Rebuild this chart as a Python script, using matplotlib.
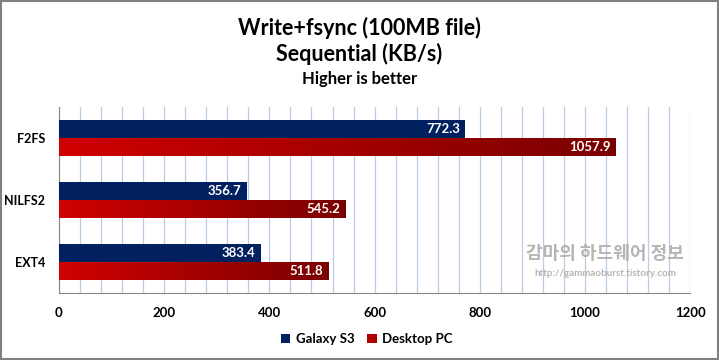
import numpy as np
import matplotlib.pyplot as plt
from matplotlib.colors import LinearSegmentedColormap
from matplotlib.patches import Patch

categories = ['F2FS', 'NILFS2', 'EXT4']
galaxy_s3 = [772.3, 356.7, 383.4]
desktop_pc = [1057.9, 545.2, 511.8]
series_names = ['Galaxy S3', 'Desktop PC']
title_lines = ['Write+fsync (100MB file)', 'Sequential (KB/s)', 'Higher is better']

plt.rcParams['font.family'] = ['Lato', 'DejaVu Sans']

navy = '#002060'
red_cmap = LinearSegmentedColormap.from_list('redgrad', ['#d00000', '#7a0000'])

fig = plt.figure(figsize=(7.19, 3.6), dpi=100)
ax = fig.add_axes([0.082, 0.187, 0.878, 0.516])

y = np.arange(len(categories))[::-1].astype(float)
h = 0.29

ax.barh(y + h / 2, galaxy_s3, height=h, color=navy, zorder=3)
bars_red = ax.barh(y - h / 2, desktop_pc, height=h, color='none', zorder=3)

# gradient fill for the red bars
grad = np.linspace(0, 1, 256).reshape(1, -1)
for b in bars_red:
    x0, y0 = b.get_x(), b.get_y()
    w, hh = b.get_width(), b.get_height()
    ax.imshow(grad, cmap=red_cmap, aspect='auto', zorder=3,
              extent=[x0, x0 + w, y0, y0 + hh], interpolation='bilinear')

for yi, v in zip(y, galaxy_s3):
    ax.text(v - 10, yi + h / 2, f'{v:.1f}', color='white', fontweight='bold',
            fontsize=9.5, ha='right', va='center', zorder=4)
for yi, v in zip(y, desktop_pc):
    ax.text(v - 10, yi - h / 2, f'{v:.1f}', color='white', fontweight='bold',
            fontsize=9.5, ha='right', va='center', zorder=4)

ax.set_xlim(0, 1200)
ax.set_ylim(-0.5, len(categories) - 0.5)
ax.set_xticks(np.arange(0, 1201, 200))
ax.set_xticks(np.arange(0, 1201, 40), minor=True)
ax.tick_params(axis='x', which='both', length=0, pad=10, labelsize=9.5)
ax.tick_params(axis='y', length=0, pad=10, labelsize=9)
for lab in ax.get_xticklabels() + ax.get_yticklabels():
    lab.set_fontweight('bold')
ax.set_yticks(y)
ax.set_yticklabels(categories)
ax.grid(axis='x', which='both', color='#b9cde5', linewidth=0.9, zorder=0)
ax.set_axisbelow(True)
for s in ['top', 'right']:
    ax.spines[s].set_visible(False)
ax.spines['left'].set_color('#868686')
ax.spines['bottom'].set_color('#868686')

fig.text(0.5, 0.922, title_lines[0], ha='center', va='center', fontsize=15.5, fontweight='bold')
fig.text(0.5, 0.850, title_lines[1], ha='center', va='center', fontsize=15.5, fontweight='bold')
fig.text(0.5, 0.780, title_lines[2], ha='center', va='center', fontsize=12, fontweight='bold')

# watermark
fig.text(0.842, 0.297, '감마의 하드웨어 정보', ha='center', va='center', fontsize=13,
         fontweight='bold', color='#a8a8a8', alpha=0.85,
         family=['Noto Sans CJK KR', 'DejaVu Sans'], zorder=5)
fig.text(0.842, 0.24, 'http://gammaoburst.tistory.com', ha='center', va='center',
         fontsize=7, fontweight='bold', color='#a8a8a8', alpha=0.85, zorder=5)

handles = [Patch(facecolor=navy), Patch(facecolor='#b00000')]
leg = fig.legend(handles, series_names, loc='center', bbox_to_anchor=(0.51, 0.058),
                 ncol=2, frameon=False, handlelength=0.7, handleheight=0.7,
                 handletextpad=0.4, columnspacing=1.0, prop={'size': 9.5, 'weight': 'bold'})

fig.patches.append(plt.Rectangle((0.001, 0.002), 0.997, 0.995, transform=fig.transFigure,
                                 fill=False, edgecolor='#808080', linewidth=1.5))

fig.savefig('out.png', dpi=100)
